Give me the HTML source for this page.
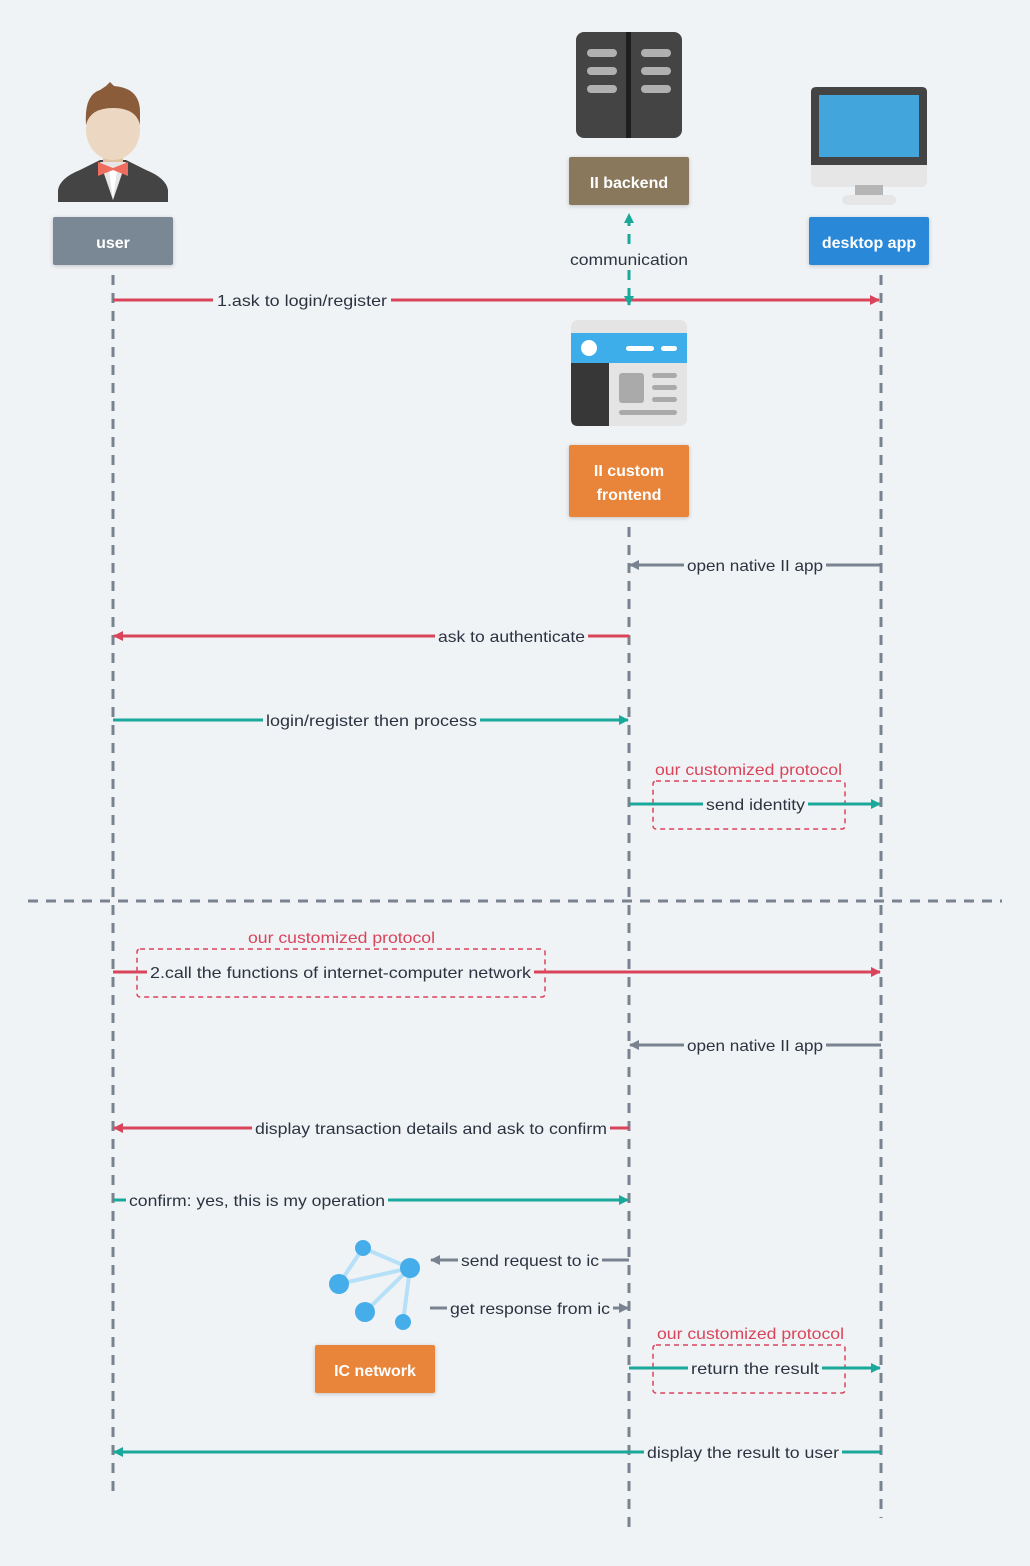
<!DOCTYPE html>
<html><head><meta charset="utf-8"><style>
html,body{margin:0;padding:0;background:#f0f3f6}
svg{display:block}
text{font-family:"Liberation Sans","DejaVu Sans",sans-serif;font-size:16px;fill:#2b3340}
.lbl{text-anchor:start}
.bt{fill:#fff;font-size:16px;font-weight:bold;text-anchor:middle}
.red{fill:#d9445a}
</style></head><body>
<svg width="1030" height="1566" viewBox="0 0 1030 1566" xmlns="http://www.w3.org/2000/svg">
<defs>
<marker id="ar" markerWidth="10" markerHeight="10" refX="9" refY="5" orient="auto" markerUnits="userSpaceOnUse"><path d="M0,0 L10,5 L0,10z" fill="#d9445a"/></marker>
<marker id="at" markerWidth="10" markerHeight="10" refX="9" refY="5" orient="auto" markerUnits="userSpaceOnUse"><path d="M0,0 L10,5 L0,10z" fill="#1aa89a"/></marker>
<marker id="ag" markerWidth="10" markerHeight="10" refX="9" refY="5" orient="auto" markerUnits="userSpaceOnUse"><path d="M0,0 L10,5 L0,10z" fill="#78838f"/></marker>
</defs>
<rect width="1030" height="1566" fill="#f0f3f6"/>
<g stroke="#78838f" stroke-width="3" stroke-dasharray="10,8" fill="none">
<line x1="113" y1="275" x2="113" y2="1497"/>
<line x1="629" y1="527" x2="629" y2="1530"/>
<line x1="881" y1="275" x2="881" y2="1518"/>
<line x1="28" y1="901" x2="1002" y2="901"/>
</g>
<!-- user icon -->
<path d="M58,202 L58,190 Q60,178 80,170 L100,160 L126,160 L146,170 Q166,178 168,190 L168,202z" fill="#444"/>
<path d="M100,162 L113,200 L126,162z" fill="#e6e6e6"/>
<path d="M109,170 L113,200 L117,170z" fill="#fff"/>
<path d="M98,162 L113,168 L128,162 L128,176 L113,170 L98,176z" fill="#ee6d5e"/>
<rect x="103" y="148" width="20" height="14" fill="#e2c2a0"/>
<ellipse cx="113" cy="130" rx="27" ry="30" fill="#ecd8c2"/>
<path d="M86,125 Q84,95 100,90 L106,86 L110,82 L114,86 Q140,88 140,112 L140,125 Q136,108 113,108 Q90,108 86,125z" fill="#8a5c3a"/>
<!-- server icon -->
<rect x="576" y="32" width="106" height="106" rx="8" fill="#444"/>
<rect x="626" y="32" width="5" height="106" fill="#1e1e1e"/>
<g fill="#b0b0b0"><rect x="587" y="49" width="30" height="8" rx="4"/><rect x="587" y="67" width="30" height="8" rx="4"/><rect x="587" y="85" width="30" height="8" rx="4"/><rect x="641" y="49" width="30" height="8" rx="4"/><rect x="641" y="67" width="30" height="8" rx="4"/><rect x="641" y="85" width="30" height="8" rx="4"/></g>
<!-- monitor -->
<rect x="811" y="87" width="116" height="100" rx="5" fill="#e6e6e6"/>
<path d="M811,92 Q811,87 816,87 L922,87 Q927,87 927,92 L927,165 L811,165z" fill="#444"/>
<rect x="819" y="95" width="100" height="62" fill="#42a5dc"/>
<rect x="855" y="185" width="28" height="12" fill="#b5b5b5"/>
<rect x="842" y="195" width="54" height="10" rx="5" fill="#e6e6e6"/>
<!-- frontend icon -->
<rect x="571" y="320" width="116" height="106" rx="7" fill="#e4e4e4"/>
<rect x="571" y="333" width="116" height="30" fill="#3daee9"/>
<circle cx="589" cy="348" r="8" fill="#fff"/>
<rect x="626" y="346" width="28" height="5" rx="2.5" fill="#fff"/><rect x="661" y="346" width="16" height="5" rx="2.5" fill="#fff"/>
<path d="M571,363 L609,363 L609,426 L578,426 Q571,426 571,419z" fill="#373737"/>
<rect x="619" y="373" width="25" height="30" rx="3" fill="#aaa"/>
<g fill="#aaa"><rect x="652" y="373" width="25" height="5" rx="2.5"/><rect x="652" y="385" width="25" height="5" rx="2.5"/><rect x="652" y="397" width="25" height="5" rx="2.5"/><rect x="619" y="410" width="58" height="5" rx="2.5"/></g>
<!-- network icon -->
<g stroke="#b6e0f7" stroke-width="4"><line x1="363" y1="1248" x2="410" y2="1268"/><line x1="363" y1="1248" x2="339" y2="1284"/><line x1="339" y1="1284" x2="410" y2="1268"/><line x1="365" y1="1312" x2="410" y2="1268"/><line x1="403" y1="1322" x2="410" y2="1268"/></g>
<g fill="#45aeea"><circle cx="363" cy="1248" r="8"/><circle cx="410" cy="1268" r="10"/><circle cx="339" cy="1284" r="10"/><circle cx="365" cy="1312" r="10"/><circle cx="403" cy="1322" r="8"/></g>
<!-- boxes -->
<g style="filter:drop-shadow(0 1px 2px rgba(0,0,0,.2))">
<rect x="53" y="217" width="120" height="48" rx="2" fill="#7a8896"/>
<rect x="569" y="157" width="120" height="48" rx="2" fill="#8a785c"/>
<rect x="809" y="217" width="120" height="48" rx="2" fill="#2a88d8"/>
<rect x="569" y="445" width="120" height="72" rx="2" fill="#e8853a"/>
<rect x="315" y="1345" width="120" height="48" rx="2" fill="#e8853a"/>
</g>
<text class="bt" x="113" y="248">user</text>
<text class="bt" x="629" y="188">II backend</text>
<text class="bt" x="869" y="248">desktop app</text>
<text class="bt" x="629" y="476">II custom</text>
<text class="bt" x="629" y="500">frontend</text>
<text class="bt" x="375" y="1376">IC network</text>
<!-- protocol boxes -->
<g fill="none" stroke="#d9445a" stroke-width="1.5" stroke-dasharray="5,4">
<rect x="653" y="781" width="192" height="48" rx="3"/>
<rect x="137" y="949" width="408" height="48" rx="3"/>
<rect x="653" y="1345" width="192" height="48" rx="3"/>
</g>
<text class="lbl red" x="655" y="775" textLength="187" lengthAdjust="spacingAndGlyphs">our customized protocol</text>
<text class="lbl red" x="248" y="943" textLength="187" lengthAdjust="spacingAndGlyphs">our customized protocol</text>
<text class="lbl red" x="657" y="1339" textLength="187" lengthAdjust="spacingAndGlyphs">our customized protocol</text>
<!-- messages -->
<g stroke-width="3" fill="none">
<line x1="113" y1="300" x2="879" y2="300" stroke="#d9445a" marker-end="url(#ar)"/>
<line x1="629" y1="298" x2="629" y2="214" stroke="#1aa89a" stroke-dasharray="10,8" marker-end="url(#at)"/>
<line x1="629" y1="290" x2="629" y2="305" stroke="#1aa89a" marker-end="url(#at)"/>
<line x1="881" y1="565" x2="630" y2="565" stroke="#78838f" marker-end="url(#ag)"/>
<line x1="629" y1="636" x2="114" y2="636" stroke="#d9445a" marker-end="url(#ar)"/>
<line x1="113" y1="720" x2="628" y2="720" stroke="#1aa89a" marker-end="url(#at)"/>
<line x1="629" y1="804" x2="880" y2="804" stroke="#1aa89a" marker-end="url(#at)"/>
<line x1="113" y1="972" x2="880" y2="972" stroke="#d9445a" marker-end="url(#ar)"/>
<line x1="881" y1="1045" x2="630" y2="1045" stroke="#78838f" marker-end="url(#ag)"/>
<line x1="629" y1="1128" x2="114" y2="1128" stroke="#d9445a" marker-end="url(#ar)"/>
<line x1="113" y1="1200" x2="628" y2="1200" stroke="#1aa89a" marker-end="url(#at)"/>
<line x1="629" y1="1260" x2="431" y2="1260" stroke="#78838f" marker-end="url(#ag)"/>
<line x1="430" y1="1308" x2="628" y2="1308" stroke="#78838f" marker-end="url(#ag)"/>
<line x1="629" y1="1368" x2="880" y2="1368" stroke="#1aa89a" marker-end="url(#at)"/>
<line x1="881" y1="1452" x2="114" y2="1452" stroke="#1aa89a" marker-end="url(#at)"/>
</g>
<g fill="#f0f3f6">
<rect x="213" y="290" width="178" height="20"/>
<rect x="568" y="249" width="122" height="20"/>
<rect x="684" y="555" width="142" height="20"/>
<rect x="435" y="626" width="153" height="20"/>
<rect x="263" y="710" width="217" height="20"/>
<rect x="703" y="794" width="105" height="20"/>
<rect x="147" y="962" width="387" height="20"/>
<rect x="684" y="1035" width="142" height="20"/>
<rect x="252" y="1118" width="358" height="20"/>
<rect x="126" y="1190" width="262" height="20"/>
<rect x="458" y="1250" width="144" height="20"/>
<rect x="447" y="1298" width="166" height="20"/>
<rect x="688" y="1358" width="134" height="20"/>
<rect x="644" y="1442" width="198" height="20"/>
</g>
<text class="lbl" x="217" y="306" textLength="170" lengthAdjust="spacingAndGlyphs">1.ask to login/register</text>
<text class="lbl" x="570" y="265" textLength="118" lengthAdjust="spacingAndGlyphs">communication</text>
<text class="lbl" x="687" y="571" textLength="136" lengthAdjust="spacingAndGlyphs">open native II app</text>
<text class="lbl" x="438" y="642" textLength="147" lengthAdjust="spacingAndGlyphs">ask to authenticate</text>
<text class="lbl" x="266" y="726" textLength="211" lengthAdjust="spacingAndGlyphs">login/register then process</text>
<text class="lbl" x="706" y="810" textLength="99" lengthAdjust="spacingAndGlyphs">send identity</text>
<text class="lbl" x="150" y="978" textLength="381" lengthAdjust="spacingAndGlyphs">2.call the functions of internet-computer network</text>
<text class="lbl" x="687" y="1051" textLength="136" lengthAdjust="spacingAndGlyphs">open native II app</text>
<text class="lbl" x="255" y="1134" textLength="352" lengthAdjust="spacingAndGlyphs">display transaction details and ask to confirm</text>
<text class="lbl" x="129" y="1206" textLength="256" lengthAdjust="spacingAndGlyphs">confirm: yes, this is my operation</text>
<text class="lbl" x="461" y="1266" textLength="138" lengthAdjust="spacingAndGlyphs">send request to ic</text>
<text class="lbl" x="450" y="1314" textLength="160" lengthAdjust="spacingAndGlyphs">get response from ic</text>
<text class="lbl" x="691" y="1374" textLength="128" lengthAdjust="spacingAndGlyphs">return the result</text>
<text class="lbl" x="647" y="1458" textLength="192" lengthAdjust="spacingAndGlyphs">display the result to user</text>
</svg>
</body></html>
